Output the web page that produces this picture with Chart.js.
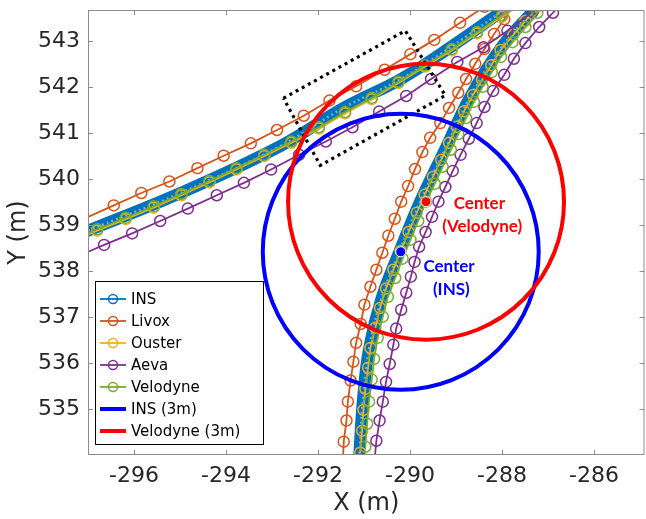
<!DOCTYPE html>
<html>
<head>
<meta charset="utf-8">
<script src="https://cdn.jsdelivr.net/npm/chart.js@4.4.1/dist/chart.umd.min.js"></script>
<style>
html, body { margin: 0; padding: 0; background: #fff; }
#wrap { width: 646px; height: 519px; position: relative; }
</style>
</head>
<body>
<div id="wrap"><canvas id="chart"></canvas></div>
<script>
"use strict";

// axis ticks
var xTicks = [-296, -294, -292, -290, -288, -286];
var yTicks = [535, 536, 537, 538, 539, 540, 541, 542, 543];

// road A = the shallow pass (left -> top right), road B = the steep pass (bottom -> top right)
// points are [x, y] in metres
var insRoadA = [[-297.00,538.88],[-294.99,539.70],[-292.82,540.72],[-291.41,541.57],[-290.21,542.17],[-289.12,542.87],[-287.93,543.70]];
var insRoadB = [[-291.10,534.03],[-291.02,535.22],[-290.89,536.31],[-290.62,537.40],[-290.23,538.42],[-289.78,539.51],[-289.23,540.66],[-288.71,541.75],[-288.04,542.83],[-287.32,543.66]];

var livoxRoadA = [[-297.30,539.04],[-296.44,539.43],[-295.84,539.70],[-295.23,539.95],[-294.62,540.24],[-294.05,540.51],[-293.46,540.78],[-292.89,541.07],[-292.31,541.38],[-291.75,541.71],[-291.17,542.02],[-290.55,542.38],[-289.99,542.72],[-289.47,543.03],[-288.91,543.40],[-288.38,543.75]];
var livoxRoadB = [[-291.46,533.81],[-291.44,534.29],[-291.38,534.75],[-291.35,535.16],[-291.29,535.62],[-291.23,536.03],[-291.17,536.44],[-291.07,536.85],[-290.99,537.27],[-290.86,537.66],[-290.73,538.03],[-290.60,538.40],[-290.47,538.77],[-290.33,539.14],[-290.19,539.51],[-290.04,539.85],[-289.89,540.22],[-289.73,540.59],[-289.56,540.90],[-289.34,541.22],[-289.15,541.55],[-288.95,541.88],[-288.78,542.18],[-288.58,542.51],[-288.38,542.83],[-288.17,543.16],[-287.95,543.48],[-287.62,544.03]];

var ousterRoadA = [[-297.40,538.63],[-296.80,538.88],[-296.18,539.13],[-295.57,539.38],[-294.97,539.65],[-294.36,539.93],[-293.77,540.21],[-293.17,540.50],[-292.58,540.79],[-291.98,541.10],[-291.41,541.43],[-290.83,541.74],[-290.25,542.09],[-289.67,542.45],[-289.09,542.80],[-288.54,543.17],[-288.00,543.53],[-287.45,543.89]];
var ousterRoadB = [[-291.08,534.05],[-291.04,534.53],[-291.01,534.98],[-290.97,535.44],[-290.91,535.90],[-290.86,536.33],[-290.75,536.77],[-290.65,537.20],[-290.52,537.62],[-290.36,538.03],[-290.20,538.44],[-290.03,538.85],[-289.85,539.27],[-289.68,539.66],[-289.50,540.05],[-289.32,540.42],[-289.15,540.79],[-288.98,541.14],[-288.82,541.48],[-288.63,541.83],[-288.43,542.16],[-288.23,542.48],[-288.03,542.81],[-287.75,543.14],[-287.49,543.44],[-287.22,543.75]];

var aevaRoadA = [[-297.25,538.31],[-296.65,538.57],[-296.04,538.82],[-295.43,539.09],[-294.83,539.36],[-294.20,539.65],[-293.61,539.92],[-293.02,540.21],[-292.41,540.53],[-291.83,540.82],[-291.25,541.13],[-290.67,541.47],[-290.08,541.81],[-289.54,542.18],[-288.97,542.55],[-288.40,542.87],[-287.88,543.23],[-287.33,543.64],[-286.80,544.00]];
var aevaRoadB = [[-290.77,533.88],[-290.73,534.31],[-290.66,534.75],[-290.59,535.16],[-290.52,535.59],[-290.44,535.98],[-290.36,536.40],[-290.30,536.75],[-290.19,537.16],[-290.08,537.53],[-289.98,537.88],[-289.90,538.20],[-289.80,538.53],[-289.66,538.85],[-289.52,539.18],[-289.38,539.51],[-289.23,539.83],[-289.07,540.18],[-288.90,540.53],[-288.72,540.88],[-288.55,541.22],[-288.38,541.57],[-288.19,541.92],[-287.95,542.27],[-287.74,542.62],[-287.49,542.96],[-287.19,543.31],[-286.89,543.62],[-286.43,544.14]];

var velodyneRoadA = [[-297.40,538.66],[-296.80,538.91],[-296.18,539.16],[-295.57,539.41],[-294.97,539.68],[-294.36,539.96],[-293.77,540.24],[-293.17,540.53],[-292.58,540.82],[-291.98,541.13],[-291.41,541.46],[-290.83,541.77],[-290.25,542.12],[-289.67,542.48],[-289.09,542.83],[-288.54,543.20],[-288.00,543.56],[-287.45,543.92]];
var velodyneRoadB = [[-290.97,534.18],[-290.93,534.68],[-290.89,535.16],[-290.83,535.64],[-290.78,536.09],[-290.70,536.55],[-290.59,537.01],[-290.48,537.44],[-290.32,537.85],[-290.16,538.27],[-289.99,538.68],[-289.82,539.09],[-289.65,539.51],[-289.46,539.90],[-289.29,540.27],[-289.11,540.64],[-288.95,540.98],[-288.78,541.33],[-288.61,541.68],[-288.42,542.01],[-288.22,542.33],[-288.02,542.66],[-287.77,542.98],[-287.49,543.31],[-287.23,543.62],[-286.99,544.03]];

// dotted zoom box corners
var zoomBox = [[-292.75,541.76],[-290.10,543.23],[-289.23,541.82],[-291.95,540.30],[-292.75,541.76]];

// 3 m circles
var ringRadius = 3;
var insCenter = [-290.20, 538.42];
var velodyneCenter = [-289.65, 539.51];

var colors = {
	ins: "#0072BD",
	livox: "#D95319",
	ouster: "#EDB120",
	aeva: "#7E2F8E",
	velodyne: "#77AC30"
};

var legendItems = [
	{ text: "INS", color: colors.ins, marker: true },
	{ text: "Livox", color: colors.livox, marker: true },
	{ text: "Ouster", color: colors.ouster, marker: true },
	{ text: "Aeva", color: colors.aeva, marker: true },
	{ text: "Velodyne", color: colors.velodyne, marker: true },
	{ text: "INS (3m)", color: "#0000FF", marker: false },
	{ text: "Velodyne (3m)", color: "#FF0000", marker: false }
];

var toXY = function(pts) {
	return pts.map(function(p) { return { x: p[0], y: p[1] }; });
};

// one trajectory dataset with open circle markers
var track = function(label, color, pts, order) {
	return {
		label: label,
		data: toXY(pts),
		showLine: true,
		borderColor: color,
		borderWidth: 1.8,
		pointRadius: 5.5,
		pointBorderWidth: 1.5,
		pointBorderColor: color,
		pointBackgroundColor: "rgba(0,0,0,0)",
		pointHoverRadius: 0,
		order: order
	};
};

// INS is sampled so densely that its markers merge into a band
var insBand = function(pts) {
	return {
		label: "INS",
		data: toXY(pts),
		showLine: true,
		borderColor: colors.ins,
		borderWidth: 12,
		borderCapStyle: "round",
		borderJoinStyle: "round",
		tension: 0.4,
		pointRadius: 0,
		order: 6
	};
};
var insTexture = function(pts) {
	return {
		label: "INS",
		data: toXY(pts),
		showLine: true,
		borderColor: "rgba(255,255,255,0.45)",
		borderWidth: 2.5,
		borderDash: [2, 3],
		tension: 0.4,
		pointRadius: 0,
		order: 5.5
	};
};

var datasets = [
	insBand(insRoadA), insBand(insRoadB),
	insTexture(insRoadA), insTexture(insRoadB),
	track("Livox", colors.livox, livoxRoadA, 4), track("Livox", colors.livox, livoxRoadB, 4),
	track("Ouster", colors.ouster, ousterRoadA, 3), track("Ouster", colors.ouster, ousterRoadB, 3),
	track("Aeva", colors.aeva, aevaRoadA, 2), track("Aeva", colors.aeva, aevaRoadB, 2),
	track("Velodyne", colors.velodyne, velodyneRoadA, 1), track("Velodyne", colors.velodyne, velodyneRoadB, 1),
	{
		label: "zoom",
		data: toXY(zoomBox),
		showLine: true,
		borderColor: "#000",
		borderWidth: 3.2,
		borderDash: [3, 4],
		pointRadius: 0,
		order: 0
	}
];

// circles, centre markers, labels, axes box and legend
var overlay = {
	id: "overlay",
	afterDatasetsDraw: function(chart) {
		var ctx = chart.ctx, a = chart.chartArea, sx = chart.scales.x, sy = chart.scales.y;
		ctx.save();
		ctx.beginPath();
		ctx.rect(a.left, a.top, a.right - a.left, a.bottom - a.top);
		ctx.clip();

		var rings = [[insCenter, "#0000FF"], [velodyneCenter, "#FF0000"]];
		rings.forEach(function(r) {
			var cx = sx.getPixelForValue(r[0][0]);
			var cy = sy.getPixelForValue(r[0][1]);
			var rad = Math.abs(sx.getPixelForValue(r[0][0] + ringRadius) - cx);
			ctx.beginPath();
			ctx.arc(cx, cy, rad, 0, Math.PI * 2);
			ctx.lineWidth = 4;
			ctx.strokeStyle = r[1];
			ctx.stroke();
		});

		rings.forEach(function(r) {
			ctx.beginPath();
			ctx.arc(sx.getPixelForValue(r[0][0]), sy.getPixelForValue(r[0][1]), 5, 0, Math.PI * 2);
			ctx.fillStyle = r[1];
			ctx.fill();
			ctx.lineWidth = 1;
			ctx.strokeStyle = "#fff";
			ctx.stroke();
		});

		ctx.font = "bold 17px Lato";
		ctx.textAlign = "center";
		ctx.textBaseline = "middle";
		ctx.fillStyle = "#FF0000";
		ctx.fillText("Center", sx.getPixelForValue(-288.49), sy.getPixelForValue(539.48));
		ctx.fillText("(Velodyne)", sx.getPixelForValue(-288.43), sy.getPixelForValue(538.98));
		ctx.fillStyle = "#0000FF";
		ctx.fillText("Center", sx.getPixelForValue(-289.15), sy.getPixelForValue(538.09));
		ctx.fillText("(INS)", sx.getPixelForValue(-289.10), sy.getPixelForValue(537.60));
		ctx.restore();
	},
	afterDraw: function(chart) {
		var ctx = chart.ctx, a = chart.chartArea, sx = chart.scales.x, sy = chart.scales.y;
		ctx.save();

		// axes box with inward ticks on all sides
		ctx.strokeStyle = "#8c8c8c";
		ctx.lineWidth = 1;
		ctx.strokeRect(a.left + 0.5, a.top + 0.5, a.right - a.left - 1, a.bottom - a.top - 1);
		ctx.beginPath();
		xTicks.forEach(function(v) {
			var px = Math.round(sx.getPixelForValue(v)) + 0.5;
			ctx.moveTo(px, a.bottom); ctx.lineTo(px, a.bottom - 5);
			ctx.moveTo(px, a.top); ctx.lineTo(px, a.top + 5);
		});
		yTicks.forEach(function(v) {
			var py = Math.round(sy.getPixelForValue(v)) + 0.5;
			ctx.moveTo(a.left, py); ctx.lineTo(a.left + 5, py);
			ctx.moveTo(a.right, py); ctx.lineTo(a.right - 5, py);
		});
		ctx.stroke();

		// legend
		var lx = 95, ly = 281, lw = 168, lh = 163;
		ctx.fillStyle = "#fff";
		ctx.fillRect(lx, ly, lw, lh);
		ctx.strokeStyle = "#000";
		ctx.strokeRect(lx + 0.5, ly + 0.5, lw, lh);
		ctx.font = "15px 'DejaVu Sans'";
		ctx.textAlign = "left";
		ctx.textBaseline = "middle";
		legendItems.forEach(function(it, i) {
			var y = 299 + i * 22;
			ctx.strokeStyle = it.color;
			ctx.lineWidth = it.marker ? 1.8 : 4;
			ctx.beginPath();
			ctx.moveTo(100, y); ctx.lineTo(126, y);
			ctx.stroke();
			if (it.marker) {
				ctx.lineWidth = 1.5;
				ctx.beginPath();
				ctx.arc(113, y, 4.5, 0, Math.PI * 2);
				ctx.stroke();
			}
			ctx.fillStyle = "#000";
			ctx.fillText(it.text, 131, y + 1);
		});
		ctx.restore();
	}
};

var tickFont = { family: "DejaVu Sans", size: 22 };
var titleFont = { family: "DejaVu Sans", size: 24 };

new Chart(document.getElementById("chart").getContext("2d"), {
	type: "scatter",
	data: { datasets: datasets },
	options: {
		responsive: true,
		maintainAspectRatio: false,
		animation: false,
		devicePixelRatio: 1,
		layout: { autoPadding: false, padding: { left: 0, top: 10, right: 1.5, bottom: 0 } },
		plugins: {
			legend: { display: false },
			tooltip: { enabled: false }
		},
		scales: {
			x: {
				type: "linear",
				min: -297,
				max: -284.9,
				afterBuildTicks: function(s) { s.ticks = xTicks.map(function(v) { return { value: v }; }); },
				afterFit: function(s) { s.height = 64; s.paddingLeft = 0; s.paddingRight = 0; },
				grid: { display: false, drawTicks: false, tickLength: 0 },
				border: { display: false },
				ticks: { font: tickFont, color: "#262626", padding: 8, maxRotation: 0,
					callback: function(v) { return String(v); } },
				title: { display: true, text: "X (m)", font: titleFont, color: "#262626", padding: { top: 0, bottom: 1 } }
			},
			y: {
				type: "linear",
				min: 534,
				max: 543.68,
				afterBuildTicks: function(s) { s.ticks = yTicks.map(function(v) { return { value: v }; }); },
				afterFit: function(s) { s.width = 88; s.paddingTop = 0; s.paddingBottom = 0; },
				grid: { display: false, drawTicks: false, tickLength: 0 },
				border: { display: false },
				ticks: { font: tickFont, color: "#262626", padding: 8,
					callback: function(v) { return String(v); } },
				title: { display: true, text: "Y (m)", font: titleFont, color: "#262626", padding: { top: 4, bottom: 0 } }
			}
		}
	},
	plugins: [overlay]
});
</script>
</body>
</html>
